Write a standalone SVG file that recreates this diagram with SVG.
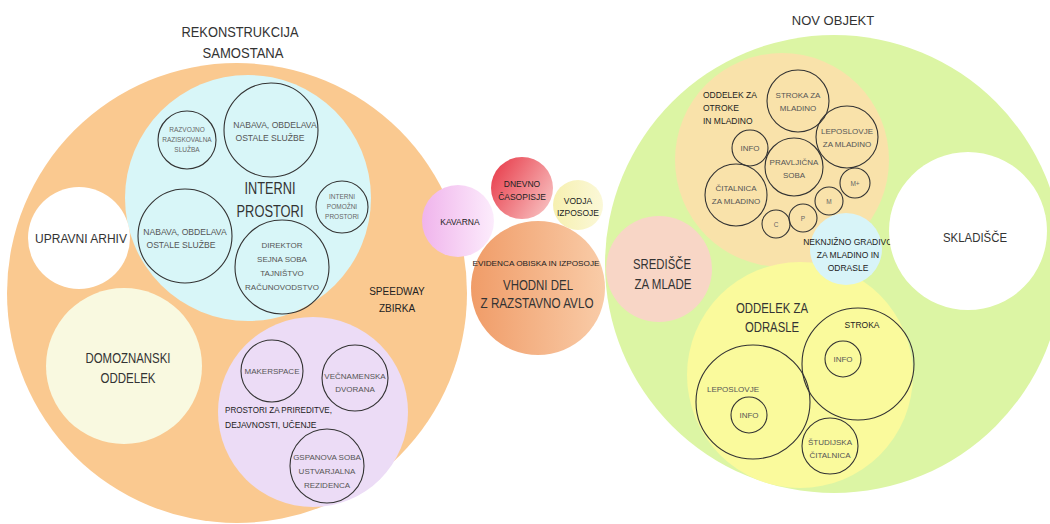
<svg xmlns="http://www.w3.org/2000/svg" width="1050" height="524" viewBox="0 0 1050 524">
<defs>
<linearGradient id="gKav" x1="0" y1="0" x2="1" y2="0"><stop offset="0" stop-color="#f0b4ec"/><stop offset="1" stop-color="#fcecfc"/></linearGradient>
<linearGradient id="gDne" x1="0" y1="0.2" x2="1" y2="0.8"><stop offset="0" stop-color="#e8404e"/><stop offset="1" stop-color="#f8c0c0"/></linearGradient>
<linearGradient id="gVho" x1="0" y1="0" x2="1" y2="0"><stop offset="0" stop-color="#f09c68"/><stop offset="1" stop-color="#f9cca8"/></linearGradient>
<linearGradient id="gVod" x1="0" y1="0" x2="1" y2="0"><stop offset="0" stop-color="#f6f0b0"/><stop offset="1" stop-color="#fbf8d8"/></linearGradient>
</defs>
<style>
text{font-family:"Liberation Sans",Arial,sans-serif;text-anchor:middle;}
.ring{fill:none;stroke:#333;stroke-width:1.1;}
.lab{fill:#555;font-size:8px;}
.sm{fill:#666;font-size:6.5px;}
.big{fill:#333;font-size:14px;}
.mid{fill:#333;font-size:12px;}
.dark{fill:#222;font-size:8.5px;}
</style>
<rect width="1050" height="524" fill="#ffffff"/>
<g id="title-left"><text class="big" x="240" y="37" textLength="117" lengthAdjust="spacingAndGlyphs">REKONSTRUKCIJA</text><text class="big" x="243" y="58" textLength="81" lengthAdjust="spacingAndGlyphs">SAMOSTANA</text></g>
<g id="title-right"><text class="big" x="833" y="25" style="font-size:13px">NOV OBJEKT</text></g>

<g id="samostan"><circle cx="237" cy="293" r="230" fill="#fac990"/>
<text class="dark" x="397" y="295" style="font-size:10px">SPEEDWAY</text><text class="dark" x="397" y="312" style="font-size:10px">ZBIRKA</text></g>

<g id="interni"><circle cx="248" cy="198" r="123" fill="#d8f6f8"/>
<text class="big" x="270" y="194" style="font-size:17px" textLength="51" lengthAdjust="spacingAndGlyphs">INTERNI</text><text class="big" x="270" y="217" style="font-size:17px" textLength="67" lengthAdjust="spacingAndGlyphs">PROSTORI</text></g>
<g id="razvojno"><circle class="ring" cx="187" cy="140" r="29"/><text class="sm" x="187" y="132">RAZVOJNO</text><text class="sm" x="187" y="142">RAZISKOVALNA</text><text class="sm" x="187" y="152">SLUŽBA</text></g>
<g id="nabava1"><circle class="ring" cx="271" cy="130" r="47"/><text class="lab" x="275" y="128" style="font-size:8.6px">NABAVA, OBDELAVA</text><text class="lab" x="270" y="141" style="font-size:8.6px">OSTALE SLUŽBE</text></g>
<g id="pomozni"><circle class="ring" cx="342" cy="207" r="26"/><text class="sm" x="342" y="199">INTERNI</text><text class="sm" x="342" y="209">POMOŽNI</text><text class="sm" x="342" y="219">PROSTORI</text></g>
<g id="nabava2"><circle class="ring" cx="185" cy="236" r="47"/><text class="lab" x="185" y="235" style="font-size:8.6px">NABAVA, OBDELAVA</text><text class="lab" x="181" y="248" style="font-size:8.6px">OSTALE SLUŽBE</text></g>
<g id="direktor"><circle class="ring" cx="282" cy="267" r="47"/><text class="lab" x="282" y="248">DIREKTOR</text><text class="lab" x="282" y="262">SEJNA SOBA</text><text class="lab" x="282" y="276">TAJNIŠTVO</text><text class="lab" x="282" y="290">RAČUNOVODSTVO</text></g>

<g id="arhiv"><circle cx="79" cy="238" r="51" fill="#ffffff"/><text class="mid" x="81" y="243">UPRAVNI ARHIV</text></g>
<g id="domoznanski"><circle cx="124" cy="366" r="78" fill="#f9f9e0"/><text class="mid" x="128" y="363" style="font-size:14px" textLength="85" lengthAdjust="spacingAndGlyphs">DOMOZNANSKI</text><text class="mid" x="128" y="383" style="font-size:14px" textLength="55" lengthAdjust="spacingAndGlyphs">ODDELEK</text></g>

<g id="prireditve"><circle cx="313" cy="412" r="95" fill="#ecdcf6"/>
<text class="dark" x="225" y="413" style="text-anchor:start" textLength="107" lengthAdjust="spacingAndGlyphs">PROSTORI ZA PRIREDITVE,</text><text class="dark" x="225" y="428" style="text-anchor:start">DEJAVNOSTI, UČENJE</text></g>
<g id="makerspace"><circle class="ring" cx="272" cy="371" r="31"/><text class="lab" x="272" y="374">MAKERSPACE</text></g>
<g id="vecnamenska"><circle class="ring" cx="355" cy="378" r="33"/><text class="lab" x="355" y="379">VEČNAMENSKA</text><text class="lab" x="355" y="392">DVORANA</text></g>
<g id="gspanova"><circle class="ring" cx="327" cy="466" r="37"/><text class="lab" x="327" y="460">GSPANOVA SOBA</text><text class="lab" x="327" y="474">USTVARJALNA</text><text class="lab" x="327" y="488">REZIDENCA</text></g>

<g id="kavarna"><circle cx="458" cy="221" r="36" fill="url(#gKav)"/><text class="dark" x="460" y="225">KAVARNA</text></g>
<g id="casopisje"><circle cx="522" cy="188" r="31" fill="url(#gDne)"/><text class="dark" x="522" y="187">DNEVNO</text><text class="dark" x="522" y="200">ČASOPISJE</text></g>
<g id="vodja"><circle cx="578" cy="205" r="25" fill="url(#gVod)"/><text class="dark" x="578" y="204">VODJA</text><text class="dark" x="578" y="216">IZPOSOJE</text></g>
<g id="vhodni"><circle cx="538" cy="288" r="67" fill="url(#gVho)"/><text class="dark" x="536" y="266" style="font-size:8px" textLength="127" lengthAdjust="spacingAndGlyphs">EVIDENCA OBISKA IN IZPOSOJE</text><text class="big" x="538" y="290" style="font-size:14px" textLength="70" lengthAdjust="spacingAndGlyphs">VHODNI DEL</text><text class="big" x="537" y="308" style="font-size:14px" textLength="113" lengthAdjust="spacingAndGlyphs">Z RAZSTAVNO AVLO</text></g>

<g id="nov-objekt"><circle cx="834" cy="264" r="229" fill="#dcf5a4"/></g>
<g id="otroci"><circle cx="782" cy="160" r="107" fill="#f9e2aa"/>
<text class="dark" x="703" y="98" style="text-anchor:start">ODDELEK ZA</text><text class="dark" x="703" y="111" style="text-anchor:start">OTROKE</text><text class="dark" x="703" y="124" style="text-anchor:start">IN MLADINO</text></g>
<g id="stroka-ml"><circle class="ring" cx="798" cy="101" r="31"/><text class="lab" x="798" y="98">STROKA ZA</text><text class="lab" x="798" y="111">MLADINO</text></g>
<g id="leposlovje-ml"><circle class="ring" cx="847" cy="137" r="31"/><text class="lab" x="847" y="134">LEPOSLOVJE</text><text class="lab" x="847" y="147">ZA MLADINO</text></g>
<g id="info-ml"><circle class="ring" cx="750" cy="148" r="18"/><text class="lab" x="750" y="151">INFO</text></g>
<g id="pravljicna"><circle class="ring" cx="794" cy="167" r="29"/><text class="lab" x="794" y="165">PRAVLJIČNA</text><text class="lab" x="794" y="178">SOBA</text></g>
<g id="citalnica-ml"><circle class="ring" cx="736" cy="195" r="31"/><text class="lab" x="736" y="191">ČITALNICA</text><text class="lab" x="736" y="204">ZA MLADINO</text></g>
<g id="mplus"><circle class="ring" cx="855" cy="183" r="15"/><text class="sm" x="855" y="186">M+</text></g>
<g id="m"><circle class="ring" cx="829" cy="201" r="14"/><text class="sm" x="829" y="204">M</text></g>
<g id="p"><circle class="ring" cx="803" cy="218" r="14"/><text class="sm" x="803" y="221">P</text></g>
<g id="c"><circle class="ring" cx="776" cy="224" r="14"/><text class="sm" x="776" y="227">C</text></g>

<g id="odrasli"><circle cx="800" cy="375" r="113" fill="#fafa9c"/>
<text class="big" x="772" y="313" style="font-size:14px" textLength="72" lengthAdjust="spacingAndGlyphs">ODDELEK ZA</text><text class="big" x="772" y="332" style="font-size:14px" textLength="54" lengthAdjust="spacingAndGlyphs">ODRASLE</text></g>
<g id="neknjizno"><circle cx="846" cy="249" r="36" fill="#d8f4f8"/><text class="dark" x="848" y="245">NEKNJIŽNO GRADIVO</text><text class="dark" x="848" y="258">ZA MLADINO IN</text><text class="dark" x="848" y="271">ODRASLE</text></g>
<g id="sredisce"><circle cx="659" cy="269" r="53" fill="#f8d6c6"/><text class="big" x="662" y="269" style="font-size:15px" textLength="58" lengthAdjust="spacingAndGlyphs">SREDIŠČE</text><text class="big" x="663" y="289" style="font-size:15px" textLength="57" lengthAdjust="spacingAndGlyphs">ZA MLADE</text></g>
<g id="stroka"><circle class="ring" cx="858" cy="364" r="56"/><text class="dark" x="862" y="328">STROKA</text></g>
<g id="info-st"><circle class="ring" cx="843" cy="359" r="18"/><text class="lab" x="843" y="362">INFO</text></g>
<g id="leposlovje"><circle class="ring" cx="753" cy="402" r="57"/><text class="lab" x="733" y="392">LEPOSLOVJE</text></g>
<g id="info-lep"><circle class="ring" cx="749" cy="415" r="18"/><text class="lab" x="749" y="418">INFO</text></g>
<g id="studijska"><circle class="ring" cx="830" cy="446" r="28"/><text class="lab" x="830" y="445">ŠTUDIJSKA</text><text class="lab" x="830" y="458">ČITALNICA</text></g>

<g id="skladisce"><circle cx="968" cy="231" r="79" fill="#ffffff"/><text class="mid" x="975" y="242" style="font-size:13px" textLength="64" lengthAdjust="spacingAndGlyphs">SKLADIŠČE</text></g>
<g id="connectors"/>
</svg>
